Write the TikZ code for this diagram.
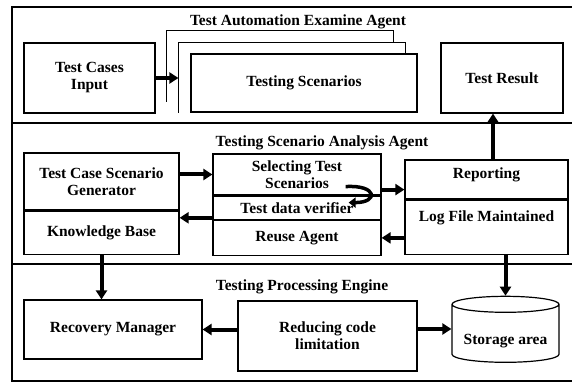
\documentclass[tikz,border=0pt]{standalone}
\usepackage{fontspec}
\setmainfont{Liberation Serif}
\usetikzlibrary{positioning, arrows.meta, shapes.geometric}

\begin{document}
\begin{tikzpicture}[x=1pt, y=1pt, node distance=0pt,
    every node/.style={font=\fontsize{15.5}{17}\selectfont\bfseries},
    box/.style={draw, line width=1.2pt, inner sep=2pt, align=center},
    store/.style={draw, line width=1.2pt, cylinder, shape border rotate=90, aspect=2.4},
    big/.style={-{Triangle[length=9pt,width=11pt]}, line width=4pt},
    frame/.style={line width=1.5pt}]
    \useasboundingbox (0,0) rectangle (572,383);
    % frame and the three bands
    \draw[frame] (572,376) -- (12,376) -- (12,2) -- (572,2);
    \draw[frame] (12,260) -- (572,260);
    \draw[frame] (12,119) -- (572,119);

    \node (tae) at (298,361) {Test Automation Examine Agent};
    \node (tsa) at (322,240) {Testing Scenario Analysis Agent};
    \node (tpe) at (302,96)  {Testing Processing Engine};

    % top band
    \node[box, minimum width=131pt, minimum height=70pt] (tci) at (89.5,305) {Test Cases\\Input};
    \node[box, minimum width=226pt, minimum height=58pt] (ts)  at (304,300) {Testing Scenarios};
    \draw[line width=1.2pt] ([xshift=-12pt]ts.south west) |- ([shift={(-12pt,11pt)}]ts.north east)
        -- ([xshift=-12pt]ts.north east);
    \draw[line width=1.2pt] ([shift={(-24pt,11pt)}]ts.south west) |- ([shift={(-24pt,23pt)}]ts.north east)
        -- ([shift={(-24pt,11pt)}]ts.north east);
    \coordinate (tsm) at ([xshift=-12pt]ts.west);
    \node[box, minimum width=122pt, minimum height=70pt] (tr)  at (502,305) {Test Result};

    % middle band
    \node[box, minimum width=155pt, minimum height=57pt] (tcsg) at (101.5,201.5) {Test Case Scenario\\Generator};
    \node[box, minimum width=155pt, minimum height=43pt, below=of tcsg] (kb) {Knowledge Base};
    \node[box, minimum width=168pt, minimum height=41pt] (sel) at (297,208.5) {Selecting Test\\Scenarios};
    \node[box, minimum width=168pt, minimum height=23pt, below=of sel] (tdv) {Test data verifier};
    \node[box, minimum width=168pt, minimum height=35pt, below=of tdv] (reuse) {Reuse Agent};
    \node[box, minimum width=163pt, minimum height=39pt, text height=11pt, text depth=13pt] (rep) at (486.5,203.5) {Reporting};
    \node[box, minimum width=163pt, minimum height=54pt, text height=11pt, text depth=22pt, below=of rep] (log) {Log File Maintained};
    \coordinate (uA) at ([shift={(-36pt,9pt)}]sel.south east);
    \coordinate (uB) at ([shift={(-33pt,-7pt)}]sel.south east);

    % bottom band
    \node[box, minimum width=178pt, minimum height=59pt] (rm)  at (113,53.5) {Recovery Manager};
    \node[box, minimum width=179pt, minimum height=70pt] (rcl) at (327.5,47) {Reducing code\\limitation};
    \node[store, minimum width=107pt, minimum height=66pt,
          label={[yshift=-6pt]center:Storage area}] (sto) at (505.5,48) {};

    % arrows
    \draw[big] (tci.east) -- (tci.east -| tsm);
    \draw[big] (sel.west -| tcsg.east) -- (sel.west);
    \draw[big] ([yshift=2pt]tdv.south west) -- ([yshift=2pt]tdv.south west -| kb.east);
    \draw[big] ([yshift=6pt]sel.south east) -- ([yshift=6pt]sel.south east -| rep.west);
    \draw[big] (reuse.east -| log.west) -- (reuse.east);
    \draw[big] ([xshift=6.5pt]rep.north) -- ([xshift=6.5pt]rep.north |- tr.south);
    \draw[big] (kb.south) -- (kb.south |- rm.north);
    \draw[big] (log.south -| sto.north) -- (sto.north);
    \draw[big] ([yshift=7pt]rcl.east) -- ([yshift=7pt]rcl.east -| sto.west);
    \draw[big] (rm.east -| rcl.west) -- (rm.east);
    \draw[-{Triangle[length=7pt,width=10pt]}, line width=3.5pt] (uA) .. controls +(32pt,2pt) and +(30pt,0pt) .. (uB);
\end{tikzpicture}
\end{document}
